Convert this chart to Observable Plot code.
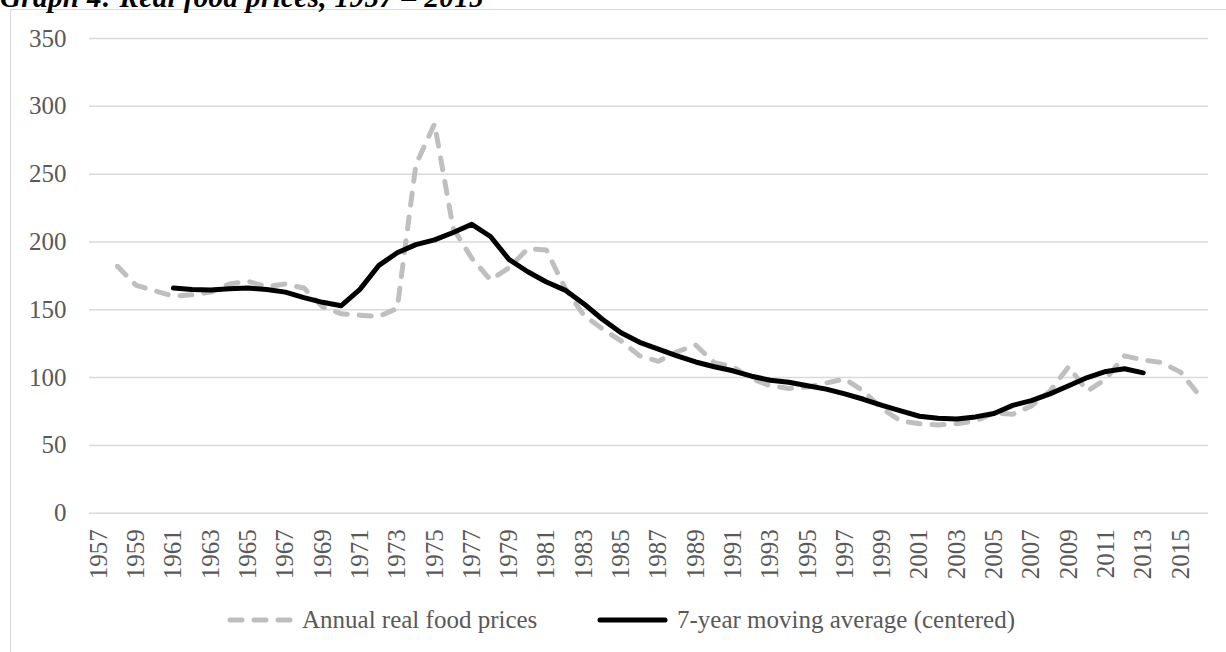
<!DOCTYPE html>
<html>
<head>
<meta charset="utf-8">
<script src="https://cdn.jsdelivr.net/npm/d3@7"></script>
<script src="https://cdn.jsdelivr.net/npm/@observablehq/plot@0.6"></script>
<style>
  html, body { margin: 0; padding: 0; background: #fff; overflow: hidden; }
  body { width: 1226px; height: 652px; position: relative; font-family: "Liberation Serif", serif; }
  #title { position: absolute; left: 0; top: -17px; font-size: 29px; line-height: 29px; letter-spacing: 0.4px; font-weight: bold; font-style: italic; color: #000; white-space: nowrap; }
  #frame { position: absolute; left: 10px; top: 9px; width: 1400px; height: 800px; border-left: 1.5px solid #d9d9d9; border-top: 1.5px solid #d9d9d9; }
  #chart { position: absolute; left: 0; top: 0; }
  #legend { position: absolute; left: 0; top: 606px; height: 28px; font-size: 25px; color: #595959; }
  .item { position: absolute; top: 0; display: flex; align-items: center; height: 28px; white-space: nowrap; }
  .item svg { display: block; margin-right: 9px; }
</style>
</head>
<body>
<div id="frame"></div>
<div id="title">Graph 4: Real food prices, 1957 – 2015</div>
<div id="chart"></div>
<div id="legend"></div>
<script>
// Categories (years on the x axis)
const years = [1957,1958,1959,1960,1961,1962,1963,1964,1965,1966,1967,1968,1969,1970,1971,1972,1973,1974,1975,1976,1977,1978,1979,1980,1981,1982,1983,1984,1985,1986,1987,1988,1989,1990,1991,1992,1993,1994,1995,1996,1997,1998,1999,2000,2001,2002,2003,2004,2005,2006,2007,2008,2009,2010,2011,2012,2013,2014,2015,2016];
const xTickLabels = [1957,1959,1961,1963,1965,1967,1969,1971,1973,1975,1977,1979,1981,1983,1985,1987,1989,1991,1993,1995,1997,1999,2001,2003,2005,2007,2009,2011,2013,2015];
const yTicks = [0,50,100,150,200,250,300,350];

// Annual real food prices, 1958–2016
const annualYears = [1958,1959,1960,1961,1962,1963,1964,1965,1966,1967,1968,1969,1970,1971,1972,1973,1974,1975,1976,1977,1978,1979,1980,1981,1982,1983,1984,1985,1986,1987,1988,1989,1990,1991,1992,1993,1994,1995,1996,1997,1998,1999,2000,2001,2002,2003,2004,2005,2006,2007,2008,2009,2010,2011,2012,2013,2014,2015,2016];
const annualValues = [182,168,164,160,161,163,169,171,167,169,166,152,147,146,145,151,257,287,210,188,172,181,195,194,166,146,136,127,116,112,119,124,111,108,99,94,92,93,96,99,90,77,68,66,65,66,68,74,73,79,90,108,90,99,116,113,111,104,87];

// 7-year moving average (centered), 1961–2013
const maYears = [1961,1962,1963,1964,1965,1966,1967,1968,1969,1970,1971,1972,1973,1974,1975,1976,1977,1978,1979,1980,1981,1982,1983,1984,1985,1986,1987,1988,1989,1990,1991,1992,1993,1994,1995,1996,1997,1998,1999,2000,2001,2002,2003,2004,2005,2006,2007,2008,2009,2010,2011,2012,2013];
const maValues = [166,165,164.5,165.5,166,165,163,159,155.5,153,165,182.5,192,198,201.5,207,213,204,187,178,170.5,164.5,154.5,143,133,126,121,116,111.5,108,105,101,98,96.5,94,91.5,88,84,79.5,75.5,71.5,70,69.5,71,73.5,79.5,83,88,94,100,104.5,106.5,103.5];

const seriesNames = ["Annual real food prices", "7-year moving average (centered)"];

const annual = annualYears.map((y, i) => ({year: y, value: annualValues[i]}));
const ma = maYears.map((y, i) => ({year: y, value: maValues[i]}));

const chart = Plot.plot({
  width: 1226,
  height: 592,
  marginLeft: 89,
  marginRight: 18,
  marginTop: 38,
  marginBottom: 79.3,
  style: {fontFamily: "Liberation Serif, serif", fontSize: "25px", color: "#595959", background: "transparent", overflow: "visible"},
  x: {type: "point", domain: years, padding: 0.5},
  y: {domain: [0, 350]},
  marks: [
    Plot.ruleY(yTicks, {stroke: "#d9d9d9", strokeWidth: 1.5}),
    Plot.axisY({ticks: yTicks, tickSize: 0, tickPadding: 23, label: null, fill: "#595959"}),
    Plot.axisX({ticks: xTickLabels, tickSize: 0, tickPadding: 16, tickRotate: -90, tickFormat: d => String(d), label: null, fill: "#595959"}),
    Plot.line(annual, {x: "year", y: "value", stroke: "#bfbfbf", strokeWidth: 5, strokeDasharray: "12,12", strokeLinecap: "round", strokeLinejoin: "round"}),
    Plot.line(ma, {x: "year", y: "value", stroke: "#000000", strokeWidth: 5, strokeLinecap: "round", strokeLinejoin: "round"})
  ]
});
document.getElementById("chart").appendChild(chart);

// Legend
const legend = document.getElementById("legend");
const items = [
  {name: seriesNames[0], left: 227, stroke: "#bfbfbf", dash: "12,12", w: 66},
  {name: seriesNames[1], left: 597, stroke: "#000000", dash: null, w: 71}
];
items.forEach(it => {
  const div = document.createElement("div");
  div.className = "item";
  div.style.left = it.left + "px";
  const ns = "http://www.w3.org/2000/svg";
  const s = document.createElementNS(ns, "svg");
  s.setAttribute("width", it.w);
  s.setAttribute("height", 14);
  const l = document.createElementNS(ns, "line");
  l.setAttribute("x1", 3); l.setAttribute("x2", it.w - 3);
  l.setAttribute("y1", 7); l.setAttribute("y2", 7);
  l.setAttribute("stroke", it.stroke);
  l.setAttribute("stroke-width", 5);
  l.setAttribute("stroke-linecap", "round");
  if (it.dash) l.setAttribute("stroke-dasharray", it.dash);
  s.appendChild(l);
  div.appendChild(s);
  const t = document.createElement("span");
  t.textContent = it.name;
  div.appendChild(t);
  legend.appendChild(div);
});
</script>
</body>
</html>
